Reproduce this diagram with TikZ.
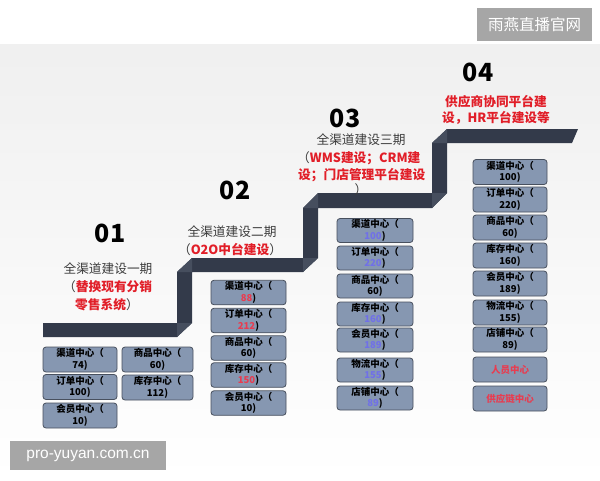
\documentclass[tikz,border=0pt]{standalone}
\usepackage{fontspec}
\setmainfont{Noto Sans CJK SC}
\newfontfamily\lib{Liberation Sans}
\definecolor{stairc}{RGB}{51,58,74}
\definecolor{stairl}{RGB}{70,78,94}
\definecolor{boxfill}{RGB}{134,151,177}
\definecolor{boxline}{RGB}{72,80,94}
\definecolor{redt}{RGB}{225,30,40}
\definecolor{redn}{RGB}{232,60,80}
\definecolor{bluen}{RGB}{112,112,232}
\definecolor{greyt}{RGB}{60,60,60}
\definecolor{wm}{RGB}{166,166,166}
\begin{document}
\begin{tikzpicture}[x=1pt,y=-1pt,
  num/.style={font=\fontsize{25}{25}\selectfont\bfseries, text=black, inner sep=0pt},
  phase/.style={font=\fontsize{12.7}{14}\selectfont, text=greyt, inner sep=0pt},
  redline/.style={font=\fontsize{12.7}{14}\selectfont, inner sep=0pt},
  cbox/.style={draw=boxline, line width=0.8pt, fill=boxfill, rounded corners=3pt,
    minimum height=25pt, inner sep=0pt, align=center,
    font=\fontsize{9.5}{11.3}\selectfont\bfseries},
  wmark/.style={fill=wm, text=white, inner sep=0pt}
]
\useasboundingbox (0,0) rectangle (600,480);
\shade[top color=black!6, bottom color=white] (0,44) rectangle (600,480);

% watermarks
\node[wmark, minimum width=115pt, minimum height=33pt, font=\fontsize{15.5}{16}\selectfont] (wm1) at (534.5,24.5) {雨燕直播官网};

% staircase
\fill[stairc] (43,323) -- (177,323) -- (177,272) -- (192,258) -- (303,258) -- (303,208)
  -- (318,193) -- (432,193) -- (432,143) -- (447,129) -- (578,129) -- (572,143)
  -- (447,143) -- (447,193) -- (432,208) -- (318,208) -- (318,258) -- (303,272)
  -- (192,272) -- (192,323) -- (177,337) -- (43,337) -- cycle;
\fill[stairl] (177,272) -- (192,258) -- (192,272) -- cycle;
\fill[stairl] (303,208) -- (318,193) -- (318,208) -- cycle;
\fill[stairl] (432,143) -- (447,129) -- (447,143) -- cycle;
\fill[stairl] (177,337) -- (192,323) -- (177,323) -- cycle;
\fill[stairl] (303,272) -- (318,258) -- (303,258) -- cycle;
\fill[stairl] (432,208) -- (447,193) -- (432,193) -- cycle;

% phase 01
\node[num] (n1) at (110,233) {01};
\node[phase] (p1) at (108,269) {全渠道建设一期};
\node[redline, anchor=west] (r1a) at (63,287) {\textcolor{greyt}{（}\textcolor{redt}{\bfseries 替换现有分销}};
\node[redline, anchor=west] (r1b) at (75,305) {\textcolor{redt}{\bfseries 零售系统}\textcolor{greyt}{）}};

% phase 02
\node[num] (n2) at (235,190) {02};
\node[phase] (p2) at (232,232) {全渠道建设二期};
\node[redline] (r2) at (230,250) {\textcolor{greyt}{（}\textcolor{redt}{\bfseries O2O中台建设}\textcolor{greyt}{）}};

% phase 03
\node[num] (n3) at (345,118) {03};
\node[phase] (p3) at (361,140) {全渠道建设三期};
\node[redline, anchor=west] (r3a) at (297,158) {\textcolor{greyt}{（}\textcolor{redt}{\bfseries WMS建设；CRM建}};
\node[redline, anchor=west] (r3b) at (298,175) {\textcolor{redt}{\bfseries 设；门店管理平台建设}};
\node[redline, text=greyt] (r3c) at (361,190) {）};

% phase 04
\node[num] (n4) at (478,72) {04};
\node[redline, text=redt, font=\fontsize{12.7}{14}\selectfont\bfseries] (r4a) at (496,102) {供应商协同平台建};
\node[redline, text=redt, font=\fontsize{12.7}{14}\selectfont\bfseries] (r4b) at (496,118) {设，HR平台建设等};

% column 1
\node[cbox, minimum width=74pt] (a1) at (80,359.5) {渠道中心（\\74)};
\node[cbox, minimum width=74pt] (a2) at (80,387) {订单中心（\\100)};
\node[cbox, minimum width=74pt] (a3) at (80,415.5) {会员中心（\\10)};
\node[cbox, minimum width=71pt] (b1) at (157.5,359.5) {商品中心（\\60)};
\node[cbox, minimum width=71pt] (b2) at (157.5,387.5) {库存中心（\\112)};

% column 2
\node[cbox, minimum width=75pt, minimum height=24.5pt] (c1) at (248.5,292.5) {渠道中心（\\\textcolor{redn}{88})};
\node[cbox, minimum width=75pt, minimum height=24.5pt] (c2) at (248.5,320.5) {订单中心（\\\textcolor{redn}{212})};
\node[cbox, minimum width=75pt, minimum height=24.5pt] (c3) at (248.5,348) {商品中心（\\60)};
\node[cbox, minimum width=75pt, minimum height=24.5pt] (c4) at (248.5,375) {库存中心（\\\textcolor{redn}{150})};
\node[cbox, minimum width=75pt, minimum height=24.5pt] (c5) at (248.5,403) {会员中心（\\10)};

% column 3
\node[cbox, minimum width=76pt, minimum height=24pt] (d1) at (375,230.5) {渠道中心（\\\textcolor{bluen}{100})};
\node[cbox, minimum width=76pt, minimum height=24pt] (d2) at (375,258) {订单中心（\\\textcolor{bluen}{220})};
\node[cbox, minimum width=76pt, minimum height=24pt] (d3) at (375,286) {商品中心（\\60)};
\node[cbox, minimum width=76pt, minimum height=24pt] (d4) at (375,314) {库存中心（\\\textcolor{bluen}{160})};
\node[cbox, minimum width=76pt, minimum height=24pt] (d5) at (375,340) {会员中心（\\\textcolor{bluen}{189})};
\node[cbox, minimum width=76pt, minimum height=24pt] (d6) at (375,370) {物流中心（\\\textcolor{bluen}{155})};
\node[cbox, minimum width=76pt, minimum height=24pt] (d7) at (375,398) {店铺中心（\\\textcolor{bluen}{89})};

% column 4
\node[cbox, minimum width=74pt] (e1) at (510,172) {渠道中心（\\100)};
\node[cbox, minimum width=74pt] (e2) at (510,199.5) {订单中心（\\220)};
\node[cbox, minimum width=74pt] (e3) at (510,227.5) {商品中心（\\60)};
\node[cbox, minimum width=74pt] (e4) at (510,255.5) {库存中心（\\160)};
\node[cbox, minimum width=74pt] (e5) at (510,283.5) {会员中心（\\189)};
\node[cbox, minimum width=74pt] (e6) at (510,312.5) {物流中心（\\155)};
\node[cbox, minimum width=74pt] (e7) at (510,339.5) {店铺中心（\\89)};
\node[cbox, minimum width=74pt, text=redn] (e8) at (510,369.5) {人员中心};
\node[cbox, minimum width=74pt, text=redn] (e9) at (510,398.5) {供应链中心};

\node[wmark, minimum width=156pt, minimum height=29pt, font=\lib\fontsize{15.5}{16}\selectfont] (wm2) at (88,455.5) {pro-yuyan.com.cn};
\end{tikzpicture}
\end{document}
